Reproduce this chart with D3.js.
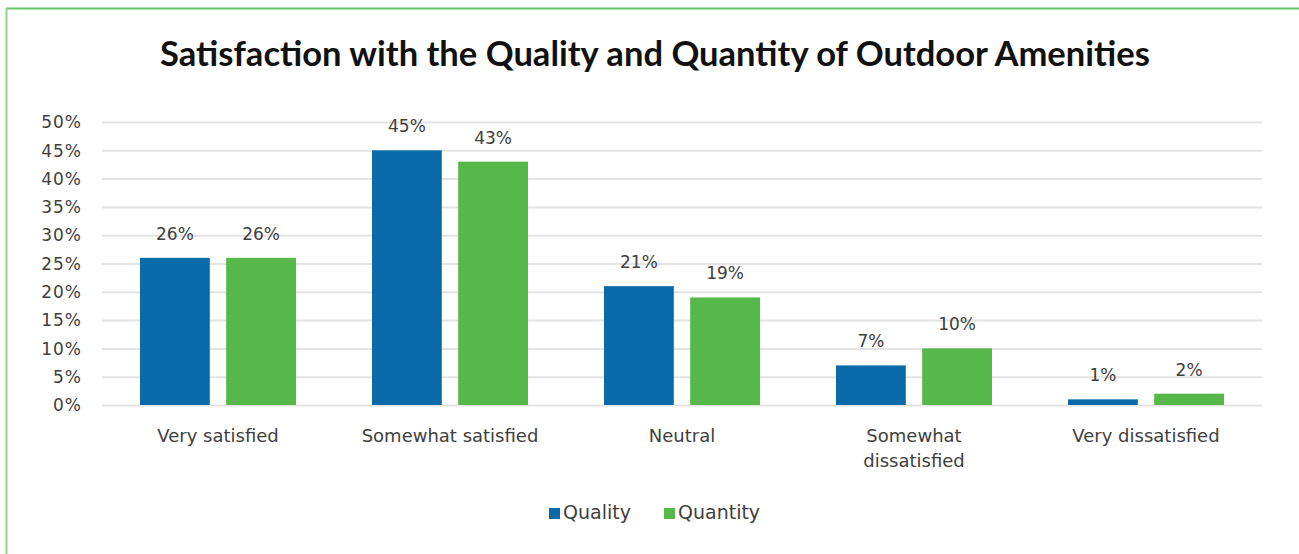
<!DOCTYPE html>
<html>
<head>
<meta charset="utf-8">
<script src="https://cdn.jsdelivr.net/npm/d3@7"></script>
<style>
  html, body { margin: 0; padding: 0; background: #fff; }
  svg { display: block; }
</style>
</head>
<body>
<svg id="chart" width="1299" height="554"></svg>
<script>
// Survey responses, percent of respondents
const categories = ["Very satisfied", "Somewhat satisfied", "Neutral", "Somewhat dissatisfied", "Very dissatisfied"];
const categoryLines = [["Very satisfied"], ["Somewhat satisfied"], ["Neutral"], ["Somewhat", "dissatisfied"], ["Very dissatisfied"]];
const seriesNames = ["Quality", "Quantity"];
const quality = [26, 45, 21, 7, 1];
const quantity = [26, 43, 19, 10, 2];
const yTicks = [0, 5, 10, 15, 20, 25, 30, 35, 40, 45, 50];
const title = "Satisfaction with the Quality and Quantity of Outdoor Amenities";

const colors = { Quality: "#0b6aa9", Quantity: "#55b848" };
const textColor = "#404040";
const titleFont = "Lato, 'Open Sans', sans-serif";
const font = "'DejaVu Sans', 'Open Sans', sans-serif";

const svg = d3.select("#chart");

// Frame accents (top and left rules)
svg.append("line").attr("x1", 6).attr("x2", 1299).attr("y1", 8.5).attr("y2", 8.5)
  .attr("stroke", "#66c566").attr("stroke-width", 2);
svg.append("line").attr("x1", 6.5).attr("x2", 6.5).attr("y1", 8).attr("y2", 554)
  .attr("stroke", "#8fd58c").attr("stroke-width", 2);

// Title, sized to its measured span
const titleEl = svg.append("text")
  .attr("x", 655).attr("y", 66)
  .attr("text-anchor", "middle")
  .attr("font-family", titleFont).attr("font-weight", 700)
  .attr("font-size", 26).attr("fill", "#111")
  .text(title);
const tw = titleEl.node().getComputedTextLength();
titleEl.attr("font-size", 26 * 990 / tw);

const margin = { left: 102, right: 1262, top: 122, bottom: 405 };

const x0 = d3.scaleBand().domain(categories).range([margin.left, margin.right]).paddingInner(0).paddingOuter(0);
const x1 = d3.scaleBand().domain(seriesNames).range([38, x0.bandwidth() - 38]).paddingInner(0.19);
const y = d3.scaleLinear().domain([0, 50]).range([margin.bottom, margin.top]);

// Gridlines and y tick labels
const yAxis = d3.axisLeft(y).tickValues(yTicks).tickFormat(d => d + "%")
  .tickSize(-(margin.right - margin.left)).tickPadding(20);
const yg = svg.append("g").attr("transform", `translate(${margin.left},0)`).call(yAxis);
yg.select(".domain").remove();
yg.selectAll(".tick line").attr("stroke", "#e3e3e3").attr("stroke-width", 2);
yg.selectAll(".tick text").attr("font-family", font).attr("font-size", 17)
  .attr("letter-spacing", 1)
  .attr("fill", textColor).attr("dy", "0.34em");

// Bars
const rows = categories.map((c, i) => ({ cat: c, values: [
  { key: "Quality", value: quality[i] },
  { key: "Quantity", value: quantity[i] }
]}));

const groups = svg.append("g").selectAll("g").data(rows).join("g")
  .attr("transform", d => `translate(${x0(d.cat)},0)`);

groups.selectAll("rect").data(d => d.values).join("rect")
  .attr("x", d => x1(d.key))
  .attr("width", x1.bandwidth())
  .attr("y", d => y(d.value))
  .attr("height", d => y(0) - y(d.value))
  .attr("fill", d => colors[d.key]);

groups.selectAll("text.val").data(d => d.values).join("text")
  .attr("class", "val")
  .attr("x", d => x1(d.key) + x1.bandwidth() / 2)
  .attr("y", d => y(d.value) - 18)
  .attr("text-anchor", "middle")
  .attr("font-family", font).attr("font-size", 17)
  .attr("fill", textColor)
  .text(d => d.value + "%");

// Category labels
const xg = svg.append("g");
categories.forEach((c, i) => {
  const t = xg.append("text")
    .attr("x", x0(c) + x0.bandwidth() / 2)
    .attr("y", 442)
    .attr("text-anchor", "middle")
    .attr("font-family", font).attr("font-size", 18)
    .attr("fill", textColor);
  categoryLines[i].forEach((line, j) => {
    t.append("tspan").attr("x", x0(c) + x0.bandwidth() / 2).attr("dy", j === 0 ? 0 : 25).text(line);
  });
});

// Legend
const legendItems = [
  { key: "Quality", x: 549 },
  { key: "Quantity", x: 664 }
];
const lg = svg.append("g");
legendItems.forEach(it => {
  lg.append("rect").attr("x", it.x).attr("y", 508).attr("width", 11).attr("height", 11)
    .attr("fill", colors[it.key]);
  lg.append("text").attr("x", it.x + 14).attr("y", 519)
    .attr("font-family", font).attr("font-size", 19).attr("fill", textColor)
    .text(it.key);
});
</script>
</body>
</html>
